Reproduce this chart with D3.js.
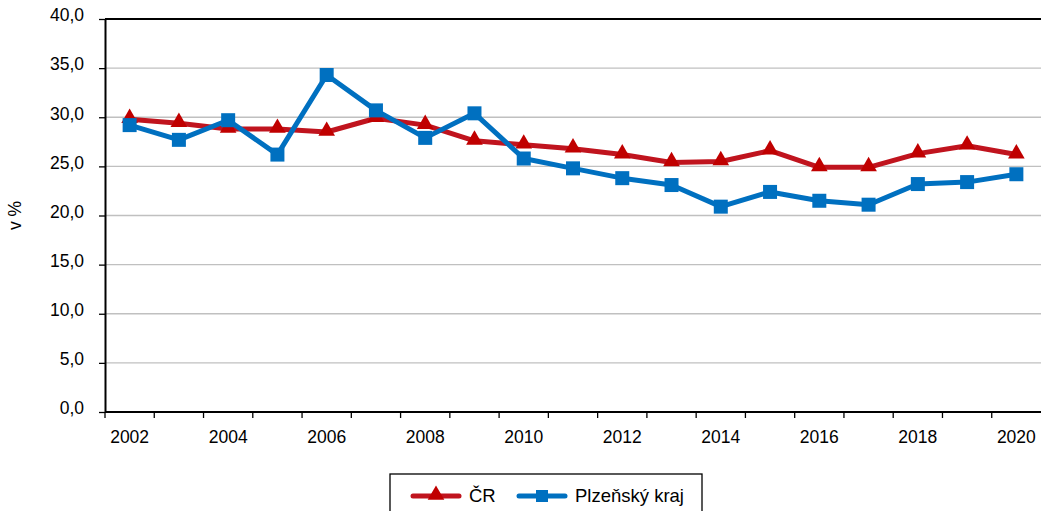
<!DOCTYPE html>
<html>
<head>
<meta charset="utf-8">
<script src="https://cdn.jsdelivr.net/npm/d3@7"></script>
<style>
  body { margin: 0; background: #fff; }
  svg text { font-family: "Liberation Sans", Arial, sans-serif; font-size: 17.5px; fill: #000; }
  svg .legend text { font-size: 18.5px; }
</style>
</head>
<body>
<div id="chart"></div>
<script>
// DATA
const years = d3.range(2002, 2021).map(String);
const cr = [29.8, 29.4, 28.8, 28.8, 28.5, 29.9, 29.2, 27.6, 27.2, 26.8, 26.2, 25.4, 25.5, 26.6, 24.9, 24.9, 26.3, 27.1, 26.2];
const plzen = [29.2, 27.7, 29.7, 26.2, 34.3, 30.7, 27.9, 30.4, 25.8, 24.8, 23.8, 23.1, 20.9, 22.4, 21.5, 21.1, 23.2, 23.4, 24.2];
const yTicks = [0, 5, 10, 15, 20, 25, 30, 35, 40];
const seriesNames = ["ČR", "Plzeňský kraj"];

// CONSTANTS
const width = 1041,
    height = 511,
    margin = { top: 19, bottom: 99, left: 105, right: 0 };

const svg = d3.select("#chart")
    .append("svg")
    .attr("width", width)
    .attr("height", height);

const xScale = d3.scaleBand()
    .domain(years)
    .range([margin.left, width - margin.right]);

const yScale = d3.scaleLinear()
    .domain([0, 40])
    .range([height - margin.bottom, margin.top]);

const fmt = d => d3.format(".1f")(d).replace(".", ",");

// gridlines
svg.append("g")
    .selectAll("line")
    .data(yTicks.filter(d => d > 0 && d < 40))
    .join("line")
    .attr("x1", margin.left)
    .attr("x2", width - margin.right)
    .attr("y1", d => yScale(d))
    .attr("y2", d => yScale(d))
    .attr("stroke", "#c0c0c0")
    .attr("stroke-width", 1.3);

// top border
svg.append("line")
    .attr("x1", margin.left).attr("x2", width - margin.right)
    .attr("y1", yScale(40)).attr("y2", yScale(40))
    .attr("stroke", "#000").attr("stroke-width", 2);

// y axis
const yAxis = d3.axisLeft(yScale)
    .tickValues(yTicks)
    .tickFormat(fmt)
    .tickSize(6)
    .tickSizeOuter(0);

const gy = svg.append("g")
    .attr("transform", `translate(${margin.left},0)`)
    .call(yAxis);
gy.attr("font-size", null).attr("font-family", null);
gy.select(".domain").attr("stroke-width", 2);
gy.selectAll(".tick line").attr("stroke-width", 1.3);
gy.selectAll(".tick text").attr("x", -21).attr("dy", "0.1em");

// x axis (ticks between categories)
const gx = svg.append("g")
    .attr("transform", `translate(0,${height - margin.bottom})`);
gx.append("line")
    .attr("x1", margin.left).attr("x2", width)
    .attr("stroke", "#000").attr("stroke-width", 2);
gx.selectAll(".xtick")
    .data(years)
    .join("line")
    .attr("x1", d => xScale(d))
    .attr("x2", d => xScale(d))
    .attr("y1", 0).attr("y2", 6)
    .attr("stroke", "#000").attr("stroke-width", 1.3);
gx.selectAll(".xlabel")
    .data(years.filter((d, i) => i % 2 === 0))
    .join("text")
    .attr("x", d => xScale(d) + xScale.bandwidth() / 2)
    .attr("y", 31)
    .attr("text-anchor", "middle")
    .text(d => d);

// y label
svg.append("text")
    .attr("transform", `translate(21,${(margin.top + height - margin.bottom) / 2}) rotate(-90)`)
    .attr("text-anchor", "middle")
    .text("v %");

const cx = d => xScale(d) + xScale.bandwidth() / 2;
const line = d3.line()
    .x((d, i) => cx(years[i]))
    .y(d => yScale(d));

const redC = "#c0141e", redM = "#c00000", blue = "#0070c0";
const tri = d3.symbol().type(d3.symbolTriangle).size(120);

// ČR
svg.append("path")
    .datum(cr)
    .attr("d", line)
    .attr("fill", "none")
    .attr("stroke", redC)
    .attr("stroke-width", 5)
    .attr("stroke-linejoin", "round");
svg.append("g")
    .selectAll("path")
    .data(cr)
    .join("path")
    .attr("d", tri)
    .attr("transform", (d, i) => `translate(${cx(years[i])},${yScale(d) - 1})`)
    .attr("fill", redM);

// Plzeňský kraj
svg.append("path")
    .datum(plzen)
    .attr("d", line)
    .attr("fill", "none")
    .attr("stroke", blue)
    .attr("stroke-width", 5)
    .attr("stroke-linejoin", "round");
svg.append("g")
    .selectAll("rect")
    .data(plzen)
    .join("rect")
    .attr("x", (d, i) => cx(years[i]) - 7)
    .attr("y", d => yScale(d) - 7)
    .attr("width", 14)
    .attr("height", 14)
    .attr("fill", blue);

// legend
const lg = svg.append("g").attr("class", "legend").attr("transform", "translate(390,474)");
lg.append("rect")
    .attr("x", 0).attr("y", 0)
    .attr("width", 312).attr("height", 45)
    .attr("fill", "#fff").attr("stroke", "#000").attr("stroke-width", 1.3);
lg.append("line").attr("x1", 23).attr("x2", 69).attr("y1", 22).attr("y2", 22)
    .attr("stroke", redC).attr("stroke-width", 5).attr("stroke-linecap", "round");
lg.append("path").attr("d", tri).attr("transform", "translate(46,21)").attr("fill", redM);
lg.append("text").attr("x", 79).attr("y", 28).text(seriesNames[0]);
lg.append("line").attr("x1", 129).attr("x2", 175).attr("y1", 22).attr("y2", 22)
    .attr("stroke", blue).attr("stroke-width", 5).attr("stroke-linecap", "round");
lg.append("rect").attr("x", 146).attr("y", 16).attr("width", 12).attr("height", 12).attr("fill", blue);
lg.append("text").attr("x", 185).attr("y", 28).text(seriesNames[1]);
</script>
</body>
</html>
